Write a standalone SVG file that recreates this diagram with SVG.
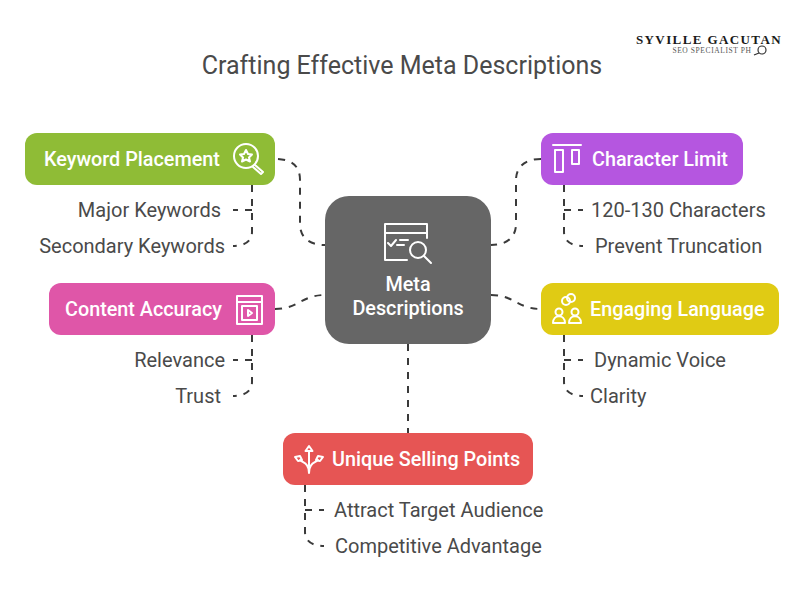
<svg xmlns="http://www.w3.org/2000/svg" width="804" height="606" viewBox="0 0 804 606">
<style>
text{font-family:Roboto,"Liberation Sans",sans-serif}
.t{font-size:19.800px;fill:#fff;font-weight:500}
.l{font-size:20px;fill:#4a4a4a}
.e{text-anchor:end}
.c{fill:none;stroke:#3a3a3a;stroke-width:2;stroke-dasharray:7 7}
.i{fill:none;stroke:#fff;stroke-width:2;stroke-linejoin:round;stroke-linecap:round}
</style>
<rect width="804" height="606" fill="#fff"/>
<text id="title" x="402" y="74" text-anchor="middle" font-size="25" fill="#4a4a4a">Crafting Effective Meta Descriptions</text>
<g id="connectors">
<path class="c" d="M278 159C292 160 300 166 300 180V224C300 238 310 245 325 245"/>
<path class="c" d="M275 309C298 309 302 295 325 295"/>
<path class="c" d="M541 159C526 159 516 166 516 180V224C516 238 506 245 491 245"/>
<path class="c" d="M491 295C514 295 518 309 541 309"/>
<path class="c" d="M408 344V433"/>
<path class="c" d="M252 185V232C252 241 245 246 233 246"/><path class="c" d="M252 210H233"/>
<path class="c" d="M252 335V382C252 391 245 396 233 396"/><path class="c" d="M252 360H233"/>
<path class="c" d="M564 185V232C564 241 571 246 583 246"/><path class="c" d="M564 210H583"/>
<path class="c" d="M564 335V382C564 391 571 396 583 396"/><path class="c" d="M564 360H583"/>
<path class="c" d="M305 485V532C305 541 312 546 324 546"/><path class="c" d="M305 510H324"/>
</g>
<g id="center">
<rect x="325" y="196" width="166" height="148" rx="24" fill="#666"/>
<path class="i" d="M407 260H385V224H427V238M385 233H427M388 243l3 3 5-6M400 240h8M397 245h7"/>
<circle class="i" cx="418" cy="250" r="8"/><path class="i" d="M424 256l7 7"/>
<text class="t" x="408" y="291" text-anchor="middle">Meta</text>
<text class="t" x="408" y="315" text-anchor="middle">Descriptions</text>
</g>
<g id="keyword">
<rect x="25" y="133" width="250" height="52" rx="12" fill="#8fbc36"/>
<text class="t" x="44" y="166">Keyword Placement</text>
<circle class="i" cx="246" cy="156" r="12"/>
<path class="i" d="M246 150l2 4 4 .5-3 3 1 4-4-2-4 2 1-4-3-3 4-.5zM255 165l8 7-2 2-8-7"/>
<text class="l e" x="221" y="217">Major Keywords</text>
<text class="l e" x="225" y="253">Secondary Keywords</text>
</g>
<g id="content">
<rect x="49" y="283" width="226" height="52" rx="12" fill="#df56a8"/>
<text class="t" x="65" y="316">Content Accuracy</text>
<path class="i" d="M237 296H262V324H237ZM237 302H262"/><rect class="i" x="242" y="306" width="15" height="14"/><path class="i" d="M248 310l4 3-4 3z"/>
<text class="l e" x="225" y="367">Relevance</text>
<text class="l e" x="221" y="403">Trust</text>
</g>
<g id="character">
<rect x="541" y="133" width="202" height="52" rx="12" fill="#b556e0"/>
<text class="t" x="592" y="166">Character Limit</text>
<path class="i" d="M553 145H581M555 150H563V172H555ZM572 150H579V164H572Z"/>
<text class="l" x="591" y="217">120-130 Characters</text>
<text class="l" x="595" y="253">Prevent Truncation</text>
</g>
<g id="engaging">
<rect x="541" y="283" width="238" height="52" rx="12" fill="#e0cb14"/>
<text class="t" x="590" y="316">Engaging Language</text>
<circle class="i" cx="566" cy="301" r="4"/><circle class="i" cx="571" cy="298" r="4"/>
<circle class="i" cx="559" cy="312" r="3.500"/><circle class="i" cx="575" cy="312" r="3.500"/>
<path class="i" d="M553 323c0-9 12-9 12 0zM569 323c0-9 12-9 12 0z"/>
<text class="l" x="594" y="367">Dynamic Voice</text>
<text class="l" x="590" y="403">Clarity</text>
</g>
<g id="unique">
<rect x="283" y="433" width="250" height="52" rx="12" fill="#e65554"/>
<text class="t" x="332" y="466">Unique Selling Points</text>
<path class="i" d="M309 452V473M309 473C309 463 303 463 300 460M309 473C309 463 315 463 318 460M305.500 451l3.500-5 3.500 5zM295 457l5-1 2 4-4 1zM323 457l-5-1-2 4 4 1z"/>
<text class="l" x="334" y="517">Attract Target Audience</text>
<text class="l" x="335" y="553">Competitive Advantage</text>
</g>
<g id="logo">
<text x="709" y="44" text-anchor="middle" font-size="13" font-weight="700" letter-spacing="1.400" fill="#1a1a1a" style="font-family:'Liberation Serif',serif">SYVILLE GACUTAN</text>
<text x="712" y="53" text-anchor="middle" font-size="7.500" letter-spacing=".6" fill="#555" style="font-family:'Liberation Serif',serif">SEO SPECIALIST PH</text>
<circle cx="762" cy="50" r="4" fill="none" stroke="#333" stroke-width="1.200"/><path d="M759 53l-5 2" stroke="#333" stroke-width="1.200"/>
</g>
</svg>
